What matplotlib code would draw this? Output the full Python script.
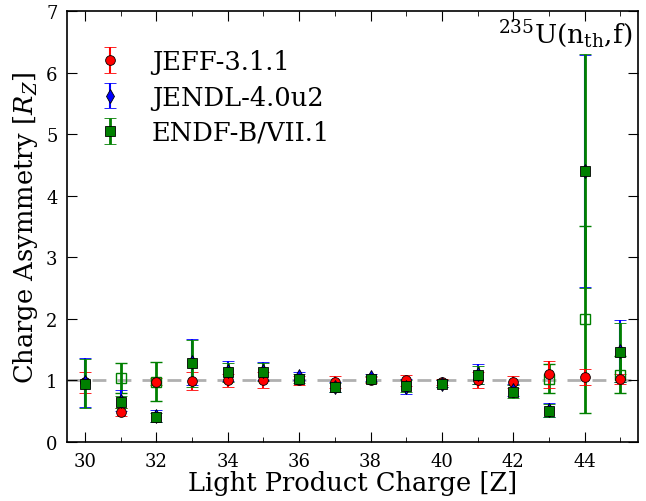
import matplotlib
matplotlib.use("Agg")
import matplotlib.pyplot as plt
import numpy as np

plt.rcParams['font.family'] = 'DejaVu Serif'
plt.rcParams['mathtext.fontset'] = 'dejavuserif'

# light product charge
z = np.arange(30, 46)

# JEFF-3.1.1
jeff = [0.97, 0.49, 0.98, 0.99, 1.00, 1.00, 1.00, 0.98, 1.01, 1.00, 0.97, 1.00, 0.98, 1.10, 1.05, 1.02]
jeff_err = [0.17, 0.07, 0.06, 0.14, 0.10, 0.13, 0.07, 0.10, 0.05, 0.09, 0.05, 0.13, 0.10, 0.22, 0.13, 0.08]

# JENDL-4.0u2
jendl = [0.97, 0.67, 0.42, 1.30, 1.15, 1.15, 1.07, 0.90, 1.05, 0.90, 0.95, 1.10, 0.84, 0.52, 4.40, 1.48]
jendl_err = [0.40, 0.17, 0.10, 0.38, 0.16, 0.15, 0.07, 0.08, 0.06, 0.12, 0.06, 0.16, 0.10, 0.12, 1.88, 0.50]

# ENDF-B/VII.1
endf = [0.95, 0.65, 0.40, 1.28, 1.13, 1.14, 1.03, 0.89, 1.03, 0.91, 0.95, 1.09, 0.82, 0.51, 4.40, 1.46]
endf_err = [0.40, 0.10, 0.07, 0.38, 0.15, 0.15, 0.07, 0.07, 0.05, 0.10, 0.06, 0.15, 0.10, 0.10, 1.90, 0.48]

# second ENDF set (open squares)
z_open = [31, 32, 43, 44, 45]
endf_open = [1.04, 0.98, 1.03, 1.99, 1.09]
endf_open_err = [0.24, 0.32, 0.24, 1.52, 0.30]

fig = plt.figure(figsize=(6.46, 5.02), dpi=100)
ax = fig.add_axes([0.104, 0.1175, 0.884, 0.8585])

ax.axhline(1.0, color='#b0b0b0', lw=2, ls='--', dashes=(5, 4), zorder=0)

ax.errorbar(z_open, endf_open, yerr=endf_open_err, fmt='s', mfc='none', mec='green',
            color='green', ms=7, elinewidth=2, capsize=4, capthick=1.5, mew=1)
ax.errorbar(z, jeff, yerr=jeff_err, fmt='o', color='red', mec='black', mew=0.6,
            ms=7, elinewidth=1.5, capsize=4, capthick=1.5, label='JEFF-3.1.1')
ax.errorbar(z, jendl, yerr=jendl_err, fmt='d', color='blue', mec='black', mew=0.6,
            ms=7, elinewidth=1.5, capsize=4, capthick=1.5, label='JENDL-4.0u2')
ax.errorbar(z, endf, yerr=endf_err, fmt='s', color='green', mec='black', mew=0.6,
            ms=7, elinewidth=2, capsize=4, capthick=1.5, label='ENDF-B/VII.1')

ax.set_xlim(29.5, 45.5)
ax.set_ylim(0, 7)
ax.set_xticks(np.arange(30, 46, 2))
ax.set_xticks(np.arange(31, 46, 2), minor=True)
ax.set_yticks(np.arange(0, 8, 1))
ax.tick_params(which='both', direction='in', top=True, right=True, labelsize=13)
ax.tick_params(which='major', length=7, pad=7)
ax.tick_params(which='minor', length=3.5)
for s in ax.spines.values():
    s.set_linewidth(1.2)

ax.set_xlabel('Light Product Charge [Z]', fontsize=18.5, labelpad=0)
ax.set_ylabel('Charge Asymmetry [$R_Z$]', fontsize=18.5, labelpad=4)

ax.text(0.99, 0.985, r'$^{235}$U(n$_{\rm th}$,f)', transform=ax.transAxes,
        ha='right', va='top', fontsize=19)

ax.legend(loc='upper left', frameon=False, numpoints=1, fontsize=18.5,
          bbox_to_anchor=(0.0, 0.965), handlelength=1.5, handletextpad=0.9,
          labelspacing=0.4)

fig.savefig('out.png', dpi=100)
